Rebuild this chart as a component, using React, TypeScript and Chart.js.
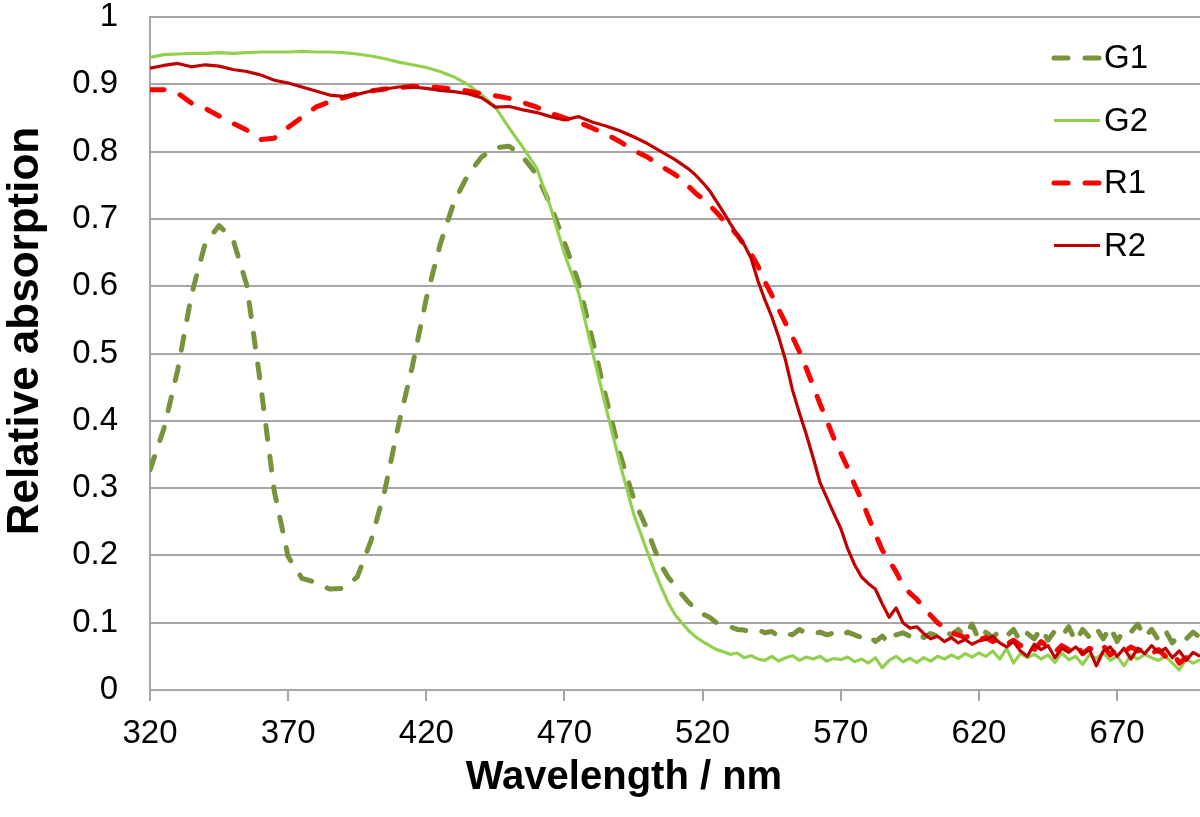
import React, { useEffect, useRef } from 'react';
import { Chart, registerables } from 'chart.js';

Chart.register(...registerables);

const FONT = '"Liberation Sans", Arial, Helvetica, sans-serif';

const WAVELENGTH = [
  320, 325, 330, 335, 340, 345, 350, 355, 360, 365, 370, 375, 380, 385, 390, 395, 400, 405, 410, 415,
  420, 425, 430, 435, 440, 445, 450, 455, 460, 465, 470, 475, 480, 485, 490, 495, 500,
  502.5, 505, 507.5, 510, 512.5, 515, 517.5, 520, 522.5, 525, 527.5, 530, 532.5, 535, 537.5, 540, 542.5, 545, 547.5, 550,
  552.5, 555, 557.5, 560, 562.5, 565, 567.5, 570, 572.5, 575, 577.5, 580, 582.5, 585, 587.5, 590, 592.5, 595, 597.5, 600,
  602.5, 605, 607.5, 610, 612.5, 615, 617.5, 620, 622.5, 625, 627.5, 630, 632.5, 635, 637.5, 640, 642.5, 645, 647.5, 650,
  652.5, 655, 657.5, 660, 662.5, 665, 667.5, 670, 672.5, 675, 677.5, 680, 682.5, 685, 687.5, 690, 692.5, 695, 697.5, 700,
];

const G1 = [
  0.327, 0.388, 0.475, 0.587, 0.664, 0.690, 0.670, 0.602, 0.455, 0.295, 0.198, 0.166, 0.160, 0.150, 0.151, 0.168, 0.222, 0.297, 0.395, 0.482,
  0.582, 0.662, 0.725, 0.765, 0.792, 0.806, 0.808, 0.792, 0.765, 0.720, 0.665, 0.607, 0.523, 0.435, 0.352, 0.285, 0.238,
  0.210, 0.185, 0.168, 0.155, 0.142, 0.130, 0.120, 0.113, 0.108, 0.100, 0.096, 0.094, 0.090, 0.089, 0.087, 0.090, 0.085, 0.087, 0.080, 0.084,
  0.082, 0.090, 0.084, 0.083, 0.086, 0.082, 0.085, 0.080, 0.086, 0.082, 0.078, 0.082, 0.072, 0.080, 0.070, 0.082, 0.085, 0.080, 0.086, 0.078,
  0.084, 0.080, 0.088, 0.082, 0.090, 0.080, 0.098, 0.074, 0.086, 0.078, 0.088, 0.080, 0.090, 0.072, 0.084, 0.076, 0.092, 0.074, 0.088, 0.080,
  0.094, 0.072, 0.090, 0.078, 0.092, 0.076, 0.094, 0.072, 0.090, 0.086, 0.098, 0.078, 0.090, 0.074, 0.088, 0.070, 0.082, 0.076, 0.086, 0.078,
];

const G2 = [
  0.940, 0.944, 0.945, 0.946, 0.946, 0.947, 0.946, 0.947, 0.948, 0.948, 0.948, 0.949, 0.948, 0.948, 0.947, 0.945, 0.942, 0.938, 0.933, 0.929,
  0.925, 0.919, 0.911, 0.900, 0.884, 0.866, 0.835, 0.806, 0.775, 0.717, 0.648, 0.592, 0.505, 0.420, 0.338, 0.262, 0.205,
  0.178, 0.153, 0.130, 0.112, 0.100, 0.088, 0.079, 0.072, 0.066, 0.060, 0.057, 0.053, 0.055, 0.048, 0.051, 0.046, 0.044, 0.050, 0.043, 0.048,
  0.051, 0.044, 0.049, 0.046, 0.050, 0.043, 0.047, 0.045, 0.049, 0.042, 0.046, 0.040, 0.048, 0.033, 0.044, 0.050, 0.042, 0.047, 0.041, 0.048,
  0.043, 0.050, 0.046, 0.052, 0.047, 0.054, 0.049, 0.055, 0.050, 0.058, 0.046, 0.062, 0.040, 0.054, 0.048, 0.053, 0.046, 0.052, 0.041, 0.055,
  0.045, 0.050, 0.038, 0.052, 0.047, 0.055, 0.044, 0.050, 0.036, 0.052, 0.046, 0.053, 0.048, 0.044, 0.050, 0.040, 0.030, 0.046, 0.040, 0.045,
];

const R1 = [
  0.892, 0.892, 0.887, 0.872, 0.864, 0.853, 0.842, 0.832, 0.818, 0.820, 0.836, 0.851, 0.866, 0.874, 0.880, 0.886, 0.890, 0.893, 0.895, 0.897,
  0.896, 0.895, 0.893, 0.890, 0.886, 0.883, 0.879, 0.873, 0.866, 0.857, 0.850, 0.844, 0.835, 0.826, 0.815, 0.802, 0.792,
  0.785, 0.778, 0.772, 0.766, 0.758, 0.748, 0.738, 0.730, 0.720, 0.710, 0.698, 0.688, 0.676, 0.662, 0.648, 0.630, 0.607, 0.587, 0.566, 0.545,
  0.525, 0.503, 0.478, 0.452, 0.425, 0.400, 0.374, 0.352, 0.330, 0.305, 0.283, 0.257, 0.232, 0.208, 0.192, 0.176, 0.155, 0.144, 0.135, 0.122,
  0.111, 0.100, 0.092, 0.085, 0.082, 0.078, 0.082, 0.075, 0.078, 0.072, 0.076, 0.068, 0.074, 0.066, 0.070, 0.060, 0.072, 0.064, 0.056, 0.066,
  0.060, 0.068, 0.054, 0.062, 0.058, 0.066, 0.052, 0.060, 0.056, 0.064, 0.058, 0.062, 0.054, 0.060, 0.050, 0.056, 0.040, 0.048, 0.036, 0.040,
];

const R2 = [
  0.924, 0.928, 0.931, 0.926, 0.929, 0.927, 0.922, 0.919, 0.914, 0.906, 0.902, 0.896, 0.890, 0.884, 0.882, 0.885, 0.890, 0.893, 0.896, 0.896,
  0.894, 0.891, 0.889, 0.886, 0.880, 0.866, 0.867, 0.862, 0.858, 0.852, 0.847, 0.852, 0.844, 0.838, 0.831, 0.822, 0.812,
  0.806, 0.800, 0.794, 0.788, 0.781, 0.774, 0.765, 0.754, 0.742, 0.726, 0.710, 0.693, 0.677, 0.662, 0.642, 0.608, 0.580, 0.555, 0.525, 0.490,
  0.446, 0.412, 0.380, 0.345, 0.308, 0.285, 0.262, 0.240, 0.210, 0.186, 0.168, 0.158, 0.150, 0.128, 0.108, 0.122, 0.100, 0.092, 0.094, 0.084,
  0.076, 0.080, 0.072, 0.078, 0.070, 0.075, 0.068, 0.073, 0.075, 0.080, 0.070, 0.064, 0.072, 0.058, 0.050, 0.068, 0.060, 0.066, 0.048, 0.062,
  0.056, 0.064, 0.054, 0.060, 0.036, 0.058, 0.064, 0.050, 0.062, 0.046, 0.062, 0.054, 0.066, 0.056, 0.062, 0.048, 0.058, 0.044, 0.056, 0.050,
];

const SERIES_NAMES = ['G1', 'G2', 'R1', 'R2'];
const SERIES_VALUES = [G1, G2, R1, R2];
const SERIES_COLORS = ['#77933C', '#92D050', '#FF0000', '#C00000'];
const SERIES_DASHED = [true, false, true, false];

const X_TICKS = [320, 370, 420, 470, 520, 570, 620, 670];
const Y_TICKS = [0, 0.1, 0.2, 0.3, 0.4, 0.5, 0.6, 0.7, 0.8, 0.9, 1];
const X_TITLE = 'Wavelength / nm';
const Y_TITLE = 'Relative absorption';

const GRID = '#a6a6a6';

const legendAndTitles = {
  id: 'legendAndTitles',
  afterDraw(chart: any) {
    const { ctx, chartArea } = chart;
    ctx.save();
    // legend
    chart.data.datasets.forEach((ds: any, i: number) => {
      const y = chartArea.top + 41 + i * 62.5;
      const x0 = chartArea.right - 146;
      const x1 = chartArea.right - 100;
      ctx.beginPath();
      ctx.strokeStyle = ds.borderColor;
      ctx.lineWidth = ds.borderWidth;
      ctx.lineCap = ds.borderDash.length ? 'round' : 'butt';
      ctx.setLineDash(ds.borderDash);
      ctx.moveTo(x0, y);
      ctx.lineTo(x1, y);
      ctx.stroke();
      ctx.setLineDash([]);
      ctx.fillStyle = '#000';
      ctx.font = `33px ${FONT}`;
      ctx.textAlign = 'left';
      ctx.textBaseline = 'middle';
      ctx.fillText(ds.label, x1 + 4, y + 1);
    });
    // axis titles
    ctx.fillStyle = '#000';
    ctx.textAlign = 'center';
    ctx.textBaseline = 'middle';
    ctx.font = `bold 40px ${FONT}`;
    ctx.fillText(X_TITLE, chartArea.left + 474, chartArea.bottom + 88);
    ctx.translate(26, chartArea.top + 314);
    ctx.rotate(-Math.PI / 2);
    ctx.font = `bold 44px ${FONT}`;
    ctx.fillText(Y_TITLE, 0, 0);
    ctx.restore();
  },
};

export default function App() {
  const ref = useRef<HTMLCanvasElement | null>(null);

  useEffect(() => {
    const prevMargin = document.body.style.margin;
    document.body.style.margin = '0';
    const datasets = SERIES_NAMES.map((name, i) => ({
      label: name,
      data: WAVELENGTH.map((x, j) => ({ x, y: SERIES_VALUES[i][j] })),
      borderColor: SERIES_COLORS[i],
      backgroundColor: SERIES_COLORS[i],
      borderWidth: SERIES_DASHED[i] ? 5 : 3.2,
      borderDash: SERIES_DASHED[i] ? [14, 17] : [],
      borderCapStyle: SERIES_DASHED[i] ? 'round' : 'butt',
      borderJoinStyle: 'round',
      pointRadius: 0,
      tension: 0,
      fill: false,
      order: SERIES_NAMES.length - i,
    }));

    const chart = new Chart(ref.current as HTMLCanvasElement, {
      type: 'line',
      data: { datasets } as any,
      options: {
        animation: false,
        responsive: false,
        events: [],
        layout: { padding: { top: 17, right: 0, bottom: 0, left: 0 } },
        plugins: { legend: { display: false }, tooltip: { enabled: false } },
        scales: {
          x: {
            type: 'linear',
            min: 320,
            max: 700,
            afterBuildTicks: (s: any) => {
              s.ticks = X_TICKS.map((v) => ({ value: v }));
            },
            afterFit: (s: any) => {
              s.height = 127;
              s.paddingLeft = 0;
              s.paddingRight = 0;
            },
            grid: { display: true, drawOnChartArea: false, drawTicks: true, tickLength: 11, color: GRID, lineWidth: 2 },
            border: { display: true, color: GRID, width: 2 },
            ticks: {
              color: '#000',
              font: { family: FONT, size: 33 },
              padding: 13,
              maxRotation: 0,
              autoSkip: false,
              callback: (v: any) => String(v),
            },
          },
          y: {
            type: 'linear',
            min: 0,
            max: 1,
            afterBuildTicks: (s: any) => {
              s.ticks = Y_TICKS.map((v) => ({ value: v }));
            },
            afterFit: (s: any) => {
              s.width = 150;
              s.paddingTop = 0;
              s.paddingBottom = 0;
            },
            grid: { color: GRID, lineWidth: 2, drawTicks: false },
            border: { display: true, color: GRID, width: 2 },
            ticks: {
              color: '#000',
              font: { family: FONT, size: 33 },
              padding: 32,
              callback: (v: any) => String(Number(Number(v).toFixed(1))),
            },
          },
        },
      },
      plugins: [legendAndTitles],
    } as any);

    return () => {
      chart.destroy();
      document.body.style.margin = prevMargin;
    };
  }, []);

  return (
    <div style={{ position: 'absolute', left: 0, top: 0, width: 1200, height: 817 }}>
      <canvas ref={ref} width={1200} height={817} style={{ display: 'block', width: 1200, height: 817 }} />
    </div>
  );
}
